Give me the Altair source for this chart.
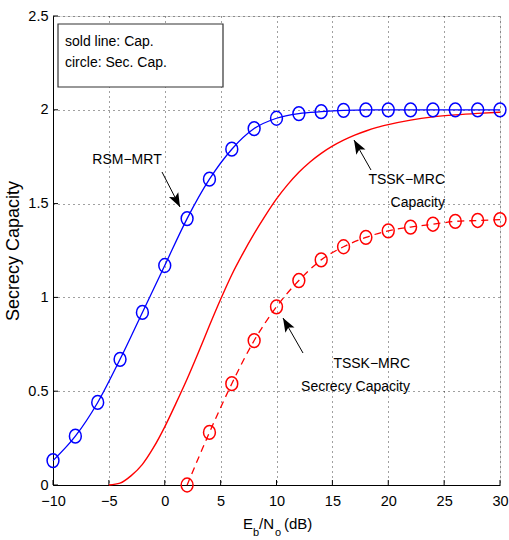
import altair as alt
import pandas as pd

# ---------------- data ----------------
x_sec = list(range(-10, 31, 2))
rsm_mrt = [0.13, 0.26, 0.44, 0.67, 0.92, 1.17, 1.42, 1.63, 1.79, 1.90, 1.955,
           1.98, 1.99, 1.997, 2.0, 2.0, 2.0, 2.0, 2.0, 2.0, 2.0]

x_tssk_cap = [-5, -4, -3, -2, -1, 0, 1, 2, 3, 4, 5, 6, 7, 8, 9, 10, 11, 12, 13,
              14, 15, 16, 17, 18, 19, 20, 22, 24, 26, 28, 30]
tssk_cap = [0.0, 0.01, 0.05, 0.11, 0.20, 0.31, 0.435, 0.565, 0.705, 0.85, 0.99,
            1.121, 1.235, 1.34, 1.436, 1.525, 1.601, 1.667, 1.722, 1.768, 1.806,
            1.838, 1.865, 1.887, 1.906, 1.921, 1.945, 1.962, 1.973, 1.981, 1.987]

x_tssk_sec = list(range(2, 31, 2))
tssk_sec = [0.0, 0.28, 0.54, 0.77, 0.95, 1.09, 1.20, 1.27, 1.32, 1.355, 1.375,
            1.39, 1.405, 1.41, 1.415]

x_ticks = [-10, -5, 0, 5, 10, 15, 20, 25, 30]
y_ticks = [0, 0.5, 1, 1.5, 2, 2.5]

W, H = 447, 469
FONT = "'Liberation Sans', Arial, sans-serif"
ELLIPSE = "M0,-1 A0.86,1 0 1,1 0,1 A0.86,1 0 1,1 0,-1 Z"
HEAD = "M0,0 L0.75,2 L0,1.55 L-0.75,2 Z"

df_rsm = pd.DataFrame({"x": x_sec, "y": rsm_mrt})
df_cap = pd.DataFrame({"x": x_tssk_cap, "y": tssk_cap})
df_sec = pd.DataFrame({"x": x_tssk_sec, "y": tssk_sec})
df_xt = pd.DataFrame({"t": x_ticks})
df_yt = pd.DataFrame({"t": y_ticks})

xs = alt.Scale(domain=[-10, 30], nice=False, zero=False)
ys = alt.Scale(domain=[0, 2.5], nice=False, zero=False)

common = dict(title=None, grid=True, gridDash=[1, 4], gridColor="#000",
              gridOpacity=0.75, tickSize=0, labelFont=FONT, labelFontSize=14.5,
              labelColor="#000", domainColor="#000", labelFlush=False)
xaxis = alt.Axis(values=x_ticks, format="d", labelPadding=9, **common)
yaxis = alt.Axis(values=y_ticks, labelExpr="datum.value", labelPadding=5,
                 **common)

base_axes = alt.Chart(df_rsm).mark_point(opacity=0).encode(
    x=alt.X("x:Q", scale=xs, axis=xaxis),
    y=alt.Y("y:Q", scale=ys, axis=yaxis),
)

xt = alt.Chart(df_xt).mark_rule(color="#000", strokeWidth=1).encode(
    x=alt.X("t:Q", scale=xs), y=alt.value(H), y2=alt.value(H - 5))
yt = alt.Chart(df_yt).mark_rule(color="#000", strokeWidth=1).encode(
    y=alt.Y("t:Q", scale=ys), x=alt.value(0), x2=alt.value(5))

blue_line = alt.Chart(df_rsm).mark_line(color="#0000ff", strokeWidth=1.3,
                                        interpolate="monotone").encode(
    x=alt.X("x:Q", scale=xs), y=alt.Y("y:Q", scale=ys))
blue_pts = alt.Chart(df_rsm).mark_point(shape=ELLIPSE, size=190, filled=False,
                                        color="#0000ff", strokeWidth=1.5,
                                        opacity=1).encode(
    x=alt.X("x:Q", scale=xs), y=alt.Y("y:Q", scale=ys))

red_line = alt.Chart(df_cap).mark_line(color="#ff0000", strokeWidth=1.4,
                                       interpolate="monotone").encode(
    x=alt.X("x:Q", scale=xs), y=alt.Y("y:Q", scale=ys))
red_dash = alt.Chart(df_sec).mark_line(color="#ff0000", strokeWidth=1.3,
                                       strokeDash=[7, 5],
                                       interpolate="monotone").encode(
    x=alt.X("x:Q", scale=xs), y=alt.Y("y:Q", scale=ys))
red_pts = alt.Chart(df_sec).mark_point(shape=ELLIPSE, size=190, filled=False,
                                       color="#ff0000", strokeWidth=1.5,
                                       opacity=1).encode(
    x=alt.X("x:Q", scale=xs), y=alt.Y("y:Q", scale=ys))

# ---------------- annotations (pixel positions in plot area) ----------------
one = pd.DataFrame({"a": [0]})


def txt(s, x, y, align="left", size=14, angle=0, baseline="middle"):
    kw = dict(text=s, align=align, baseline=baseline, fontSize=size,
              font=FONT, color="#000")
    if angle:
        kw["angle"] = angle
    return alt.Chart(one).mark_text(**kw).encode(x=alt.value(x), y=alt.value(y))


def arrow(x1, y1, x2, y2, ang):
    shaft = alt.Chart(one).mark_rule(color="#000", strokeWidth=1).encode(
        x=alt.value(x1), y=alt.value(y1), x2=alt.value(x2), y2=alt.value(y2))
    head = alt.Chart(one).mark_point(shape=HEAD, size=196, filled=True,
                                     color="#000", opacity=1, angle=ang,
                                     strokeWidth=0).encode(
        x=alt.value(x2), y=alt.value(y2))
    return shaft + head


legend_box = alt.Chart(one).mark_rect(fill="#fff", stroke="#333",
                                      strokeWidth=1.2).encode(
    x=alt.value(5), x2=alt.value(170), y=alt.value(8), y2=alt.value(71))

annots = [
    legend_box,
    txt("sold line: Cap.", 12, 30, baseline="alphabetic"),
    txt("circle: Sec. Cap.", 12, 51, baseline="alphabetic"),
    txt("RSM\u2212MRT", 74, 144, align="center"),
    arrow(109, 156, 127, 191, 152.8),
    txt("TSSK\u2212MRC", 392, 164, align="right"),
    txt("Capacity", 392, 187, align="right"),
    arrow(318, 154, 301, 124, 330.5),
    txt("TSSK\u2212MRC", 357, 348, align="right"),
    txt("Secrecy Capacity", 357, 371, align="right"),
    arrow(250, 337, 230, 302, 330.3),
    # axis titles
    txt("Secrecy Capacity", -39, 235, align="center", size=18, angle=270),
    txt("E", 190, 513, size=15, baseline="alphabetic"),
    txt("b", 200, 520, size=11, baseline="alphabetic"),
    txt("/N", 206, 513, size=15, baseline="alphabetic"),
    txt("o", 222, 520, size=11, baseline="alphabetic"),
    txt("(dB)", 231, 513, size=15, baseline="alphabetic"),
]

chart = alt.layer(base_axes, xt, yt, red_line, red_dash, red_pts,
                  blue_line, blue_pts, *annots).properties(
    width=W, height=H,
    autosize=alt.AutoSizeParams(type="none"),
    padding={"left": 53, "top": 16, "right": 9, "bottom": 55},
).configure_view(stroke=None).configure(background="#fff")

chart.save("out.html", embed_options={"renderer": "svg", "actions": False})
